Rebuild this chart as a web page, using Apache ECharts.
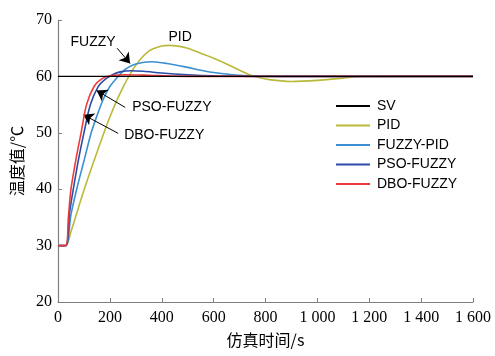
<!DOCTYPE html>
<html><head><meta charset="utf-8">
<script src="https://cdn.jsdelivr.net/npm/echarts@6/dist/echarts.min.js"></script>
<style>html,body{margin:0;padding:0;background:#fff}#c{width:495px;height:356px}</style>
</head><body><div id="c"></div>
<script>
const xTicks = [0,200,400,600,800,1000,1200,1400,1600];
const yTicks = [20,30,40,50,60,70];
const legendNames = ['SV','PID','FUZZY-PID','PSO-FUZZY','DBO-FUZZY'];
const svData = [[0,60],[1600,60]];
const pidData = [[0,30],[30,30],[50,32.5],[100,39.8],[150,46.5],[200,52.8],[250,58],[300,62],[350,64.5],[400,65.4],[430,65.5],[500,65],[550,64.1],[600,63.2],[650,62.2],[700,61.1],[750,60.1],[800,59.55],[850,59.25],[900,59.1],[1000,59.3],[1100,59.7],[1170,59.97],[1300,60],[1600,60]];
const fuzzyPidData = [[0,30],[30,30],[50,35.5],[72,40],[100,45],[128,50],[150,53],[175,56],[200,58.2],[232,60],[260,61.3],[300,62.2],[362,62.6],[420,62.3],[500,61.6],[550,61.1],[600,60.7],[700,60.2],[800,60.05],[900,60],[1600,60]];
const psoData = [[0,30],[30,30],[45,36],[59,40],[80,45.5],[100,50],[125,55],[155,58.2],[185,59.6],[210,60.3],[240,60.8],[280,61],[330,60.9],[400,60.6],[500,60.3],[600,60.1],[700,60.02],[800,60],[1600,60]];
const dboData = [[0,30],[30,30],[40,35],[50,40],[70,45.5],[89,50],[110,55],[140,58.3],[170,59.6],[200,60.1],[260,60.3],[350,60.2],[450,60.05],[550,60],[1600,60]];
const annotations = [
  {text:'FUZZY', pos:[135,66.0], align:'center', from:[228,65.0], to:[278,62.3]},
  {text:'PID', pos:[471,66.9], align:'center'},
  {text:'PSO-FUZZY', pos:[286,54.5], align:'left', from:[259,54.5], to:[149,57.5]},
  {text:'DBO-FUZZY', pos:[255,49.5], align:'left', from:[232,49.9], to:[98,53.2]}
];
const colors = ['#000000','#b9b93a','#3b8fd2','#2b4ca8','#f03a3a'];

const chart = echarts.init(document.getElementById('c'), null, {renderer:'canvas'});
function fmt(v){ return v>=1000 ? String(Math.floor(v/1000))+' '+String(v%1000).padStart(3,'0') : String(v); }
const serif = 'Liberation Serif';
const mk = (name, data, color, width, z) => ({
  name, type:'line', data, symbol:'none', smooth:0.3,
  lineStyle:{color, width}, itemStyle:{color}, z, animation:false
});
const series = [
  mk(legendNames[1], pidData, colors[1], 1.6, 2),
  mk(legendNames[2], fuzzyPidData, colors[2], 1.6, 3),
  mk(legendNames[3], psoData, colors[3], 1.6, 4),
  mk(legendNames[4], dboData, colors[4], 1.6, 5),
  mk(legendNames[0], svData, colors[0], 1.2, 6)
];
series[4].smooth = false;
series.push({
  type:'scatter', data:[], silent:true, animation:false, z:10,
  markPoint:{symbol:'circle', symbolSize:0, animation:false,
    data: annotations.map(a=>({coord:a.pos, label:{show:true, formatter:a.text, position:'inside', align:a.align, color:'#000', fontSize:14, fontFamily:'Liberation Sans'}}))},
  markLine:{silent:true, animation:false, symbol:['none','arrow'], symbolSize:10,
    lineStyle:{color:'#000', width:1, type:'solid'}, label:{show:false},
    data: annotations.filter(a=>a.from).map(a=>[{coord:a.from},{coord:a.to}])}
});
chart.setOption({
  animation:false,
  backgroundColor:'#fff',
  grid:{left:58, right:22, top:20, bottom:54},
  legend:{
    data:legendNames, orient:'vertical', left:331, top:94, itemWidth:34, itemHeight:2, itemGap:5.5,
    icon:'rect',
    textStyle:{fontSize:14, fontFamily:'Liberation Sans', color:'#000', padding:[0,0,0,2]}
  },
  xAxis:{type:'value', min:0, max:1600, interval:200,
    name:'仿真时间/s', nameLocation:'middle', nameGap:30,
    nameTextStyle:{fontSize:16, fontFamily:'Noto Sans CJK SC', color:'#000'},
    axisLine:{lineStyle:{color:'#808080', width:1.2}},
    axisTick:{inside:true, length:4, lineStyle:{color:'#808080'}},
    axisLabel:{fontSize:16, fontFamily:serif, color:'#000', margin:8, formatter:fmt, showMaxLabel:true},
    splitLine:{show:false}},
  yAxis:{type:'value', min:20, max:70, interval:10,
    name:'温度值/℃', nameLocation:'middle', nameGap:32,
    nameTextStyle:{fontSize:16, fontFamily:'Noto Sans CJK SC', color:'#000'},
    axisLine:{show:true, lineStyle:{color:'#808080', width:1.2}},
    axisTick:{show:true, inside:true, length:4, lineStyle:{color:'#808080'}},
    axisLabel:{fontSize:16, fontFamily:serif, color:'#000', margin:6},
    splitLine:{show:false}},
  series
});
</script></body></html>
